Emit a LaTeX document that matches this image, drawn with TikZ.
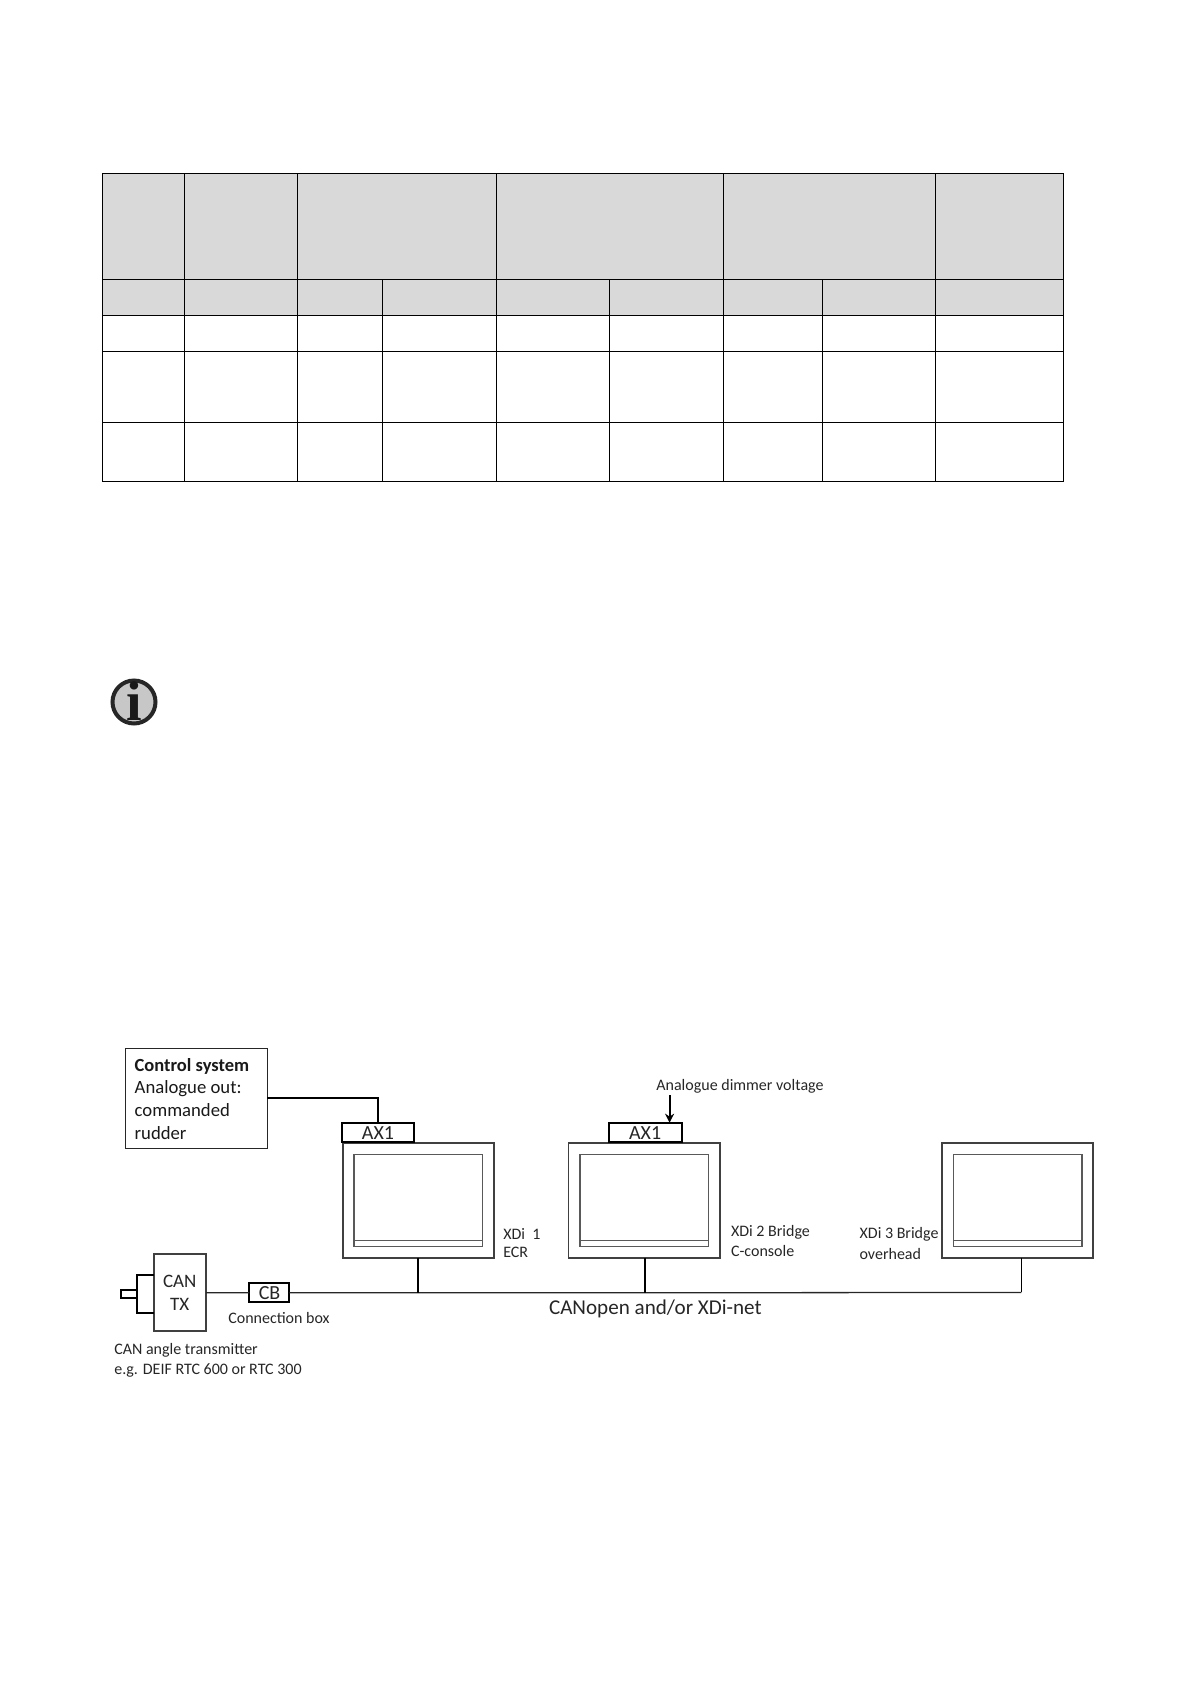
\documentclass[tikz,border=0pt]{standalone}
\usepackage{fontspec}
\setmainfont{Carlito}
\newfontfamily\iconfont{Liberation Serif}
\usetikzlibrary{arrows.meta}
\newcommand{\boxnode}[6]{%
  \pgfmathsetmacro{\bw}{#4-#2}\pgfmathsetmacro{\bh}{#5-#3}%
  \node[#6,minimum width=\bw pt,minimum height=\bh pt] (#1) at ({(#2+#4)/2},{(#3+#5)/2}) {};}
\tikzset{
  x=1pt,y=-1pt,
  gridline/.style={draw=black,line width=1pt},
  thinbox/.style={draw=black!85,line width=1.1pt,inner sep=0pt,outer sep=0pt,fill=white},
  heavybox/.style={draw=black,line width=2pt,inner sep=0pt,outer sep=0pt,fill=white},
  frame/.style={draw=black!75,line width=1.7pt,inner sep=0pt,outer sep=0pt,fill=white},
  screen/.style={draw=black!65,line width=1.4pt,inner sep=0pt,outer sep=0pt,fill=white},
  wire/.style={draw=black!85,line width=1.3pt},
  wirebold/.style={draw=black,line width=1.8pt},
  lab/.style={anchor=west,inner sep=0pt,outer sep=0pt,text=black!85,font=\fontsize{16}{18}\selectfont},
  ctrl/.style={anchor=west,inner sep=0pt,outer sep=0pt,text=black!90,font=\fontsize{18.7}{22}\selectfont},
  big/.style={inner sep=0pt,outer sep=0pt,text=black!85,font=\fontsize{20}{22}\selectfont},
}
\definecolor{headgrey}{HTML}{D9D9D9}
\begin{document}
\begin{tikzpicture}
\useasboundingbox (0,0) rectangle (1191,1684);
% table
\fill[headgrey] (102.2,173) rectangle (1063,315);
\draw[gridline] (102.2,173) rectangle (1063,481);
\foreach \yy in {279,315,351,422} \draw[gridline] (102.2,\yy) -- (1063,\yy);
\foreach \xx in {184,297.5,496.6,723.4,935.5} \draw[gridline] (\xx,173) -- (\xx,481);
\foreach \xx in {382.3,609.3,822.7} \draw[gridline] (\xx,279) -- (\xx,481);
% info icon
\node[circle,draw=black!85,fill=black!22,line width=4pt,minimum size=43pt,inner sep=0pt] (info) at (134,702) {};
\node[inner sep=0pt,text=black!90,font=\iconfont\bfseries\fontsize{56}{56}\selectfont] (infoi) at (134.5,701) {i};
% control system
\boxnode{ctrl}{125.3}{1048.3}{267.3}{1148.3}{thinbox}
\node[ctrl,font=\bfseries\fontsize{18.5}{22}\selectfont] (c1) at (134.7,1066) {Control system};
\node[ctrl] (c2) at (134.7,1088.5) {Analogue out:};
\node[ctrl] (c3) at (134.7,1110.5) {commanded};
\node[ctrl] (c4) at (134.7,1133) {rudder};
% monitors
\foreach \nm/\xa/\xb/\xc/\xd in {1/342.7/494/354/482.7, 2/568.6/720/580/708.2, 3/942/1093/953.6/1081.8}{
  \boxnode{mon\nm}{\xa}{1143.3}{\xb}{1257.7}{frame}
  \boxnode{scr\nm}{\xc}{1154.3}{\xd}{1246.3}{screen}
  \draw[draw=black!65,line width=1.2pt] (scr\nm.west |- 0,1240.3) -- (scr\nm.east |- 0,1240.3);
}
\boxnode{axa}{341.7}{1122.7}{414.3}{1142}{heavybox}
\boxnode{axb}{608.6}{1122.7}{681.8}{1142}{heavybox}
\node[big,font=\fontsize{20}{22}\selectfont] (axat) at (378,1133) {AX1};
\node[big,font=\fontsize{20}{22}\selectfont] (axbt) at (645.2,1133) {AX1};
% transmitter
\boxnode{can}{153.7}{1254.3}{206}{1331.3}{frame}
\node[big,font=\fontsize{19}{22}\selectfont] (cant) at (179.7,1281) {CAN};
\node[big,font=\fontsize{19}{22}\selectfont] (txt) at (179.7,1304) {TX};
\boxnode{shaft}{120.7}{1290}{137.3}{1298.3}{heavybox}
\draw[wirebold] (can.west |- 0,1275) -- (137.3,1275) -- (137.3,1313.3) -- (can.west |- 0,1313.3);
\boxnode{cb}{249.3}{1283}{289.3}{1302.3}{heavybox}
\node[big,font=\fontsize{20}{22}\selectfont] (cbt) at (269.6,1293) {CB};
% connectors
\coordinate (ba) at (418.3,1292.8);
\coordinate (bb) at (644.6,1292.8);
\coordinate (bc) at (1021.4,1292.4);
\coordinate (dim) at (669.6,1095);
\draw[wirebold] (ctrl.east) -| (axa.north);
\draw[wire] (can.east) -- (cb.west);
\draw[wire] (cb.east) -- (ba) -- (bb) -- (bc);
\draw[wirebold] (ba |- mon1.south) -- (ba);
\draw[wirebold] (bb |- mon2.south) -- (bb);
\draw[wirebold] (bc |- mon3.south) -- (bc);
\draw[wirebold,-{Stealth[length=9pt,width=9pt]}] (dim) -- (dim |- axb.north);
% labels
\node[lab] (l1) at (503.3,1233.5) {XDi\ \ 1};
\node[lab] (l2) at (503.3,1252.7) {ECR};
\node[lab] (l3) at (731,1232) {XDi 2 Bridge};
\node[lab] (l4) at (731,1251.3) {C-console};
\node[lab] (l5) at (859.6,1234) {XDi 3 Bridge};
\node[lab] (l6) at (859.6,1253.5) {overhead};
\node[lab] (l7) at (656.4,1086) {Analogue dimmer voltage};
\node[lab] (l8) at (228.3,1317.7) {Connection box};
\node[lab] (l9) at (114.3,1350.5) {CAN angle transmitter};
\node[lab] (l10) at (114.3,1370.3) {e.g. DEIF RTC 600 or RTC 300};
\node[big,anchor=west,font=\fontsize{21.1}{24}\selectfont] (l11) at (549,1309) {CANopen and/or XDi-net};
\end{tikzpicture}
\end{document}
